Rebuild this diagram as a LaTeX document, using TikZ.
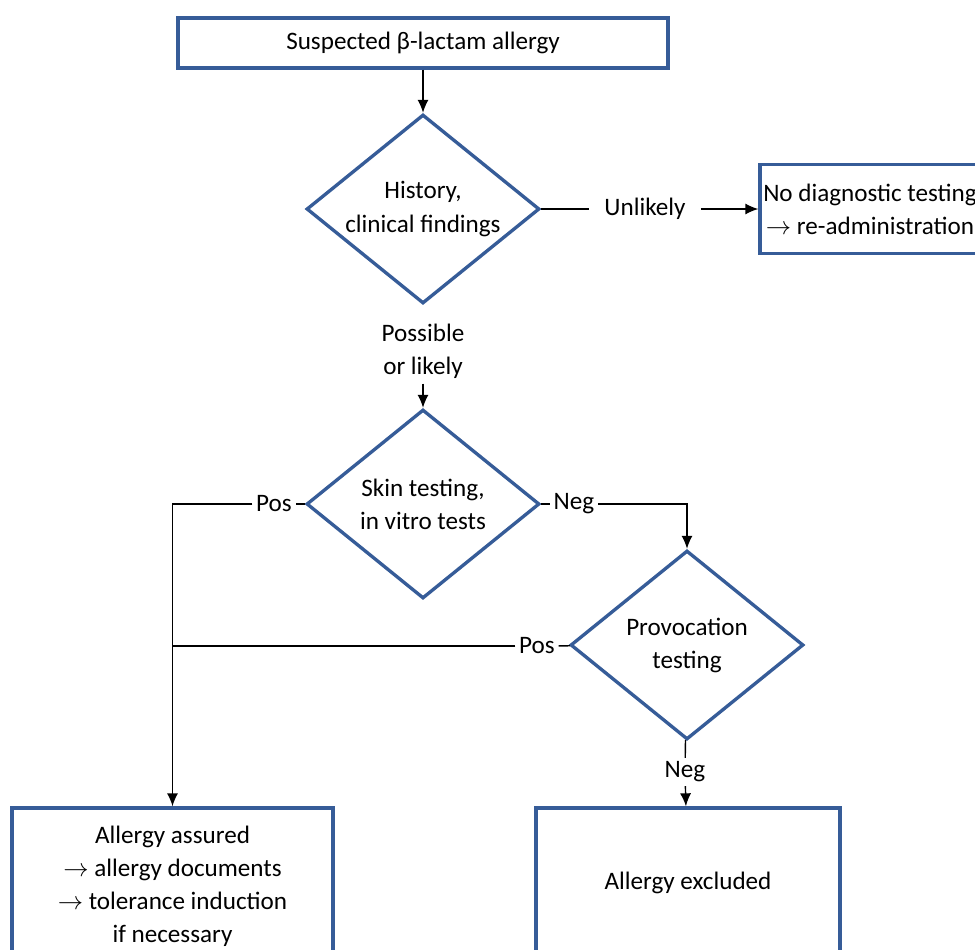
\documentclass[tikz,border=0pt]{standalone}
\usepackage{fontspec}
\setmainfont{Carlito}
\usepackage{tikz}
\usetikzlibrary{shapes.geometric,arrows.meta}
\definecolor{frameblue}{RGB}{54,92,152}

\tikzset{
  box/.style={draw=frameblue, line width=1.9pt, fill=white, align=center, inner sep=0pt},
  decision/.style={diamond, draw=frameblue, line width=1.9pt, fill=white, align=center,
    inner sep=0pt, minimum width=4.66cm, minimum height=3.78cm, aspect=1.23},
  lbl/.style={inner sep=2pt, align=center},
  conn/.style={line width=0.8pt, black},
  arr/.style={conn, -{Latex[length=2.6mm,width=2.2mm]}}
}

\begin{document}
\begin{tikzpicture}[x=0.02cm, y=-0.02cm, font=\fontsize{14.3pt}{18.8pt}\selectfont]
  \useasboundingbox (0,0) rectangle (975,950);
  \clip (0,0) rectangle (975,950);

  \node[box, minimum width=9.8cm, minimum height=1cm] (suspect) at (423,43) {Suspected β-lactam allergy};
  \node[decision] (history) at (423,209) {History,\\clinical findings};
  \node[lbl, inner xsep=0.3cm] (unlikely) at (645,209) {Unlikely};
  \node[box, minimum width=4.4cm, minimum height=1.78cm] (nodiag) at (870,209)
    {No diagnostic testing\\$\rightarrow$ re-administration};
  \node[lbl, inner sep=0pt] (possible) at (423,351) {Possible\\or likely};

  \node[decision] (skin) at (423,504) {Skin testing,\\in vitro tests};
  \node[lbl] (pos1) at (274,504) {Pos};
  \node[lbl] (neg1) at (574,504) {Neg};

  \node[decision] (provoc) at (687,645) {Provocation\\testing};
  \node[lbl] (pos2) at (537,646) {Pos};
  \node[lbl] (neg2) at (685,772) {Neg};

  \node[box, minimum width=6.42cm, minimum height=3.12cm] (assured) at (172.5,886)
    {Allergy assured\\$\rightarrow$ allergy documents\\$\rightarrow$ tolerance induction\\if necessary};
  \node[box, minimum width=6.08cm, minimum height=3cm] (excluded) at (688,883) {Allergy excluded};

  \coordinate (join) at (assured |- pos2);

  \draw[arr] (suspect) -- (history);
  \draw[conn] (history) -- (unlikely);
  \draw[arr] (unlikely) -- (nodiag);
  \draw[arr] ([yshift=-0.1cm]possible.south) -- (skin);
  \draw[conn] (skin) -- (pos1);
  \draw[arr] (pos1) -| (assured);
  \draw[conn] (skin) -- (neg1);
  \draw[arr] (neg1) -| (provoc);
  \draw[conn] (provoc) -- (pos2);
  \draw[conn] (pos2) -- (join);
  \draw[conn] (provoc) -- (neg2);
  \draw[arr] (neg2) -- (excluded);
\end{tikzpicture}
\end{document}
